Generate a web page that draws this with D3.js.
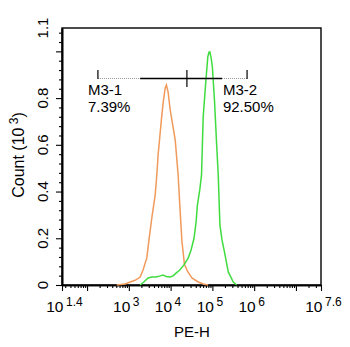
<!DOCTYPE html>
<html>
<head>
<meta charset="utf-8">
<script src="https://cdn.jsdelivr.net/npm/d3@7"></script>
<style>
    body { margin: 0; background: #fff; }
    svg text { font-family: "Liberation Sans", Arial, sans-serif; fill: #000; }
    .axis path, .axis line { stroke: #000; }
    .axis path { stroke-width: 1.6; }
    .axis line { stroke-width: 1.1; }
</style>
</head>
<body>
<div class="panel"></div>
<script>

// Data (x as log10 of PE-H, y as count in 10^3)

const orangeLog = [2.71, 2.91, 3.03, 3.15, 3.27, 3.34, 3.43, 3.48, 3.55, 3.63, 3.67, 3.70, 3.75, 3.79, 3.83, 3.87, 3.90, 3.94, 3.99, 4.05, 4.11, 4.18, 4.22, 4.27, 4.33, 4.40, 4.51, 4.66, 4.78, 4.90];
const orangeCount = [0, 0.004, 0.013, 0.02, 0.034, 0.064, 0.116, 0.19, 0.287, 0.385, 0.471, 0.556, 0.651, 0.728, 0.792, 0.843, 0.856, 0.826, 0.749, 0.685, 0.621, 0.471, 0.342, 0.19, 0.09, 0.06, 0.03, 0.013, 0.004, 0];

const greenLog = [3.27, 3.36, 3.46, 3.55, 3.65, 3.75, 3.82, 3.89, 3.99, 4.06, 4.13, 4.22, 4.32, 4.42, 4.49, 4.56, 4.61, 4.64, 4.70, 4.74, 4.78, 4.84, 4.89, 4.92, 4.94, 4.97, 5.0, 5.05, 5.10, 5.14, 5.18, 5.23, 5.29, 5.38, 5.50, 5.58];
const greenCount = [0, 0.013, 0.03, 0.034, 0.034, 0.039, 0.043, 0.036, 0.034, 0.039, 0.051, 0.064, 0.086, 0.115, 0.15, 0.2, 0.27, 0.34, 0.41, 0.471, 0.719, 0.865, 0.976, 0.997, 0.997, 0.972, 0.933, 0.792, 0.608, 0.471, 0.257, 0.193, 0.141, 0.056, 0.013, 0];

const gateNames = ["M3-1", "M3-2"];
const gatePercents = ["7.39%", "92.50%"];
const gateEdges = [2.26, 4.39, 5.83];     // log10 positions of the marker ticks
const solidSpan = [3.27, 5.23];           // part of the marker bar drawn solid

const xTickExps = ["1.4", "3", "4", "5", "6", "7.6"];
const xMajorExps = [1.4, 2, 3, 4, 5, 6, 7, 7.6];
const yTicks = [0, 0.2, 0.4, 0.6, 0.8, 1.0];
const yLabels = [0, 0.2, 0.4, 0.6, 0.8, 1.1];

// Chart ////////////////////////////////////

const width = 350, height = 347;
const margin = { left: 62, right: 29, top: 28, bottom: 62 };

const svg = d3.select(".panel").append("svg")
    .attr("width", width)
    .attr("height", height);

const x = d3.scaleLog()
    .domain([10 ** 1.4, 10 ** 7.6])
    .range([margin.left, width - margin.right]);

const y = d3.scaleLinear()
    .domain([0, 1.1])
    .range([height - margin.bottom, margin.top]);

// Minor ticks

const xMinor = [];
for (let e = 1; e < 8; e++) {
    for (let m = 2; m < 10; m++) {
        const v = m * 10 ** e;
        if (v > x.domain()[0] && v < x.domain()[1]) xMinor.push(v);
    }
}
const yMinor = d3.range(0, 1.09, 0.04).filter(v => Math.abs(v / 0.2 - Math.round(v / 0.2)) > 0.01);

// Frame

svg.append("rect")
    .attr("x", x.range()[0])
    .attr("y", y.range()[1])
    .attr("width", x.range()[1] - x.range()[0])
    .attr("height", y.range()[0] - y.range()[1])
    .attr("fill", "none")
    .attr("stroke", "#000")
    .attr("stroke-width", 1.4);

// Axes

const xAxis = svg.append("g")
    .attr("class", "axis")
    .attr("transform", `translate(0,${ y.range()[0] })`);

xAxis.append("g")
    .call(d3.axisBottom(x).tickValues(xMinor).tickSize(3).tickSizeOuter(0).tickFormat(""));
xAxis.append("g")
    .call(d3.axisBottom(x).tickValues(xMajorExps.map(e => 10 ** e)).tickSize(6).tickSizeOuter(0).tickFormat(""));

const yAxis = svg.append("g")
    .attr("class", "axis")
    .attr("transform", `translate(${ x.range()[0] },0)`);

yAxis.append("g")
    .call(d3.axisLeft(y).tickValues(yMinor).tickSize(3).tickSizeOuter(0).tickFormat(""));
yAxis.append("g")
    .call(d3.axisLeft(y).tickValues(yTicks).tickSize(6).tickSizeOuter(0).tickFormat(""));

// X tick labels: 10 with superscript

xTickExps.forEach(e => {
    const px = x(10 ** (+e));
    svg.append("text")
        .attr("x", px + 1.5)
        .attr("y", 312)
        .attr("text-anchor", "end")
        .attr("font-size", 15.5)
        .text("10");
    svg.append("text")
        .attr("x", px + 4)
        .attr("y", 306)
        .attr("font-size", 12)
        .text(e);
});

// Y tick labels (rotated)

yLabels.forEach(v => {
    svg.append("text")
        .attr("transform", `translate(48,${ y(v) }) rotate(-90)`)
        .attr("text-anchor", "middle")
        .attr("font-size", 15)
        .text(v === 0 ? "0" : v.toFixed(1));
});

// Axis titles

svg.append("text")
    .attr("x", 192)
    .attr("y", 337)
    .attr("text-anchor", "middle")
    .attr("font-size", 15)
    .text("PE-H");

const yTitle = svg.append("text")
    .attr("transform", "translate(24,155) rotate(-90)")
    .attr("text-anchor", "middle")
    .attr("font-size", 16);
yTitle.append("tspan").text("Count  (10");
yTitle.append("tspan").attr("dy", -6).attr("font-size", 12).text(" 3");
yTitle.append("tspan").attr("dy", 6).text(")");

// Histograms

const line = d3.line()
    .x(d => x(10 ** d[0]))
    .y(d => y(d[1]));

svg.append("path")
    .datum(d3.zip(orangeLog, orangeCount))
    .attr("fill", "none")
    .attr("stroke", "#f09a5c")
    .attr("stroke-width", 1.5)
    .attr("d", line);

svg.append("path")
    .datum(d3.zip(greenLog, greenCount))
    .attr("fill", "none")
    .attr("stroke", "#3fdc3f")
    .attr("stroke-width", 1.5)
    .attr("d", line);

// Markers

const barY = 78.5;
const gx = gateEdges.map(e => x(10 ** e));

svg.append("line")
    .attr("x1", gx[0]).attr("x2", gx[2])
    .attr("y1", barY).attr("y2", barY)
    .attr("stroke", "#999")
    .attr("stroke-width", 1)
    .attr("stroke-dasharray", "1,1");

svg.append("line")
    .attr("x1", x(10 ** solidSpan[0])).attr("x2", x(10 ** solidSpan[1]))
    .attr("y1", barY).attr("y2", barY)
    .attr("stroke", "#000")
    .attr("stroke-width", 1.3);

gx.forEach((px, i) => {
    svg.append("line")
        .attr("x1", px).attr("x2", px)
        .attr("y1", 70).attr("y2", i === 1 ? 87 : 79)
        .attr("stroke", "#000")
        .attr("stroke-width", 1.2);
});

gateNames.forEach((name, i) => {
    const tx = i === 0 ? gx[0] - 10 : gx[1] + 36;
    svg.append("text")
        .attr("x", tx).attr("y", 95)
        .attr("font-size", 15)
        .text(name);
    svg.append("text")
        .attr("x", tx).attr("y", 112)
        .attr("font-size", 15)
        .text(gatePercents[i]);
});

</script>
</body>
</html>
